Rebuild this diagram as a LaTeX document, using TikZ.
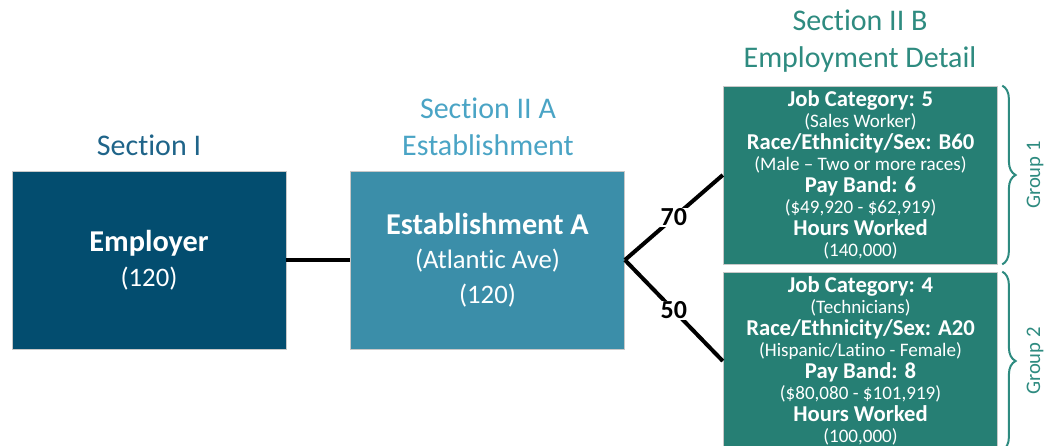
\documentclass[tikz,border=0pt]{standalone}
\usepackage{fontspec}
\setmainfont{Carlito}[Ligatures=NoCommon]
\usetikzlibrary{decorations.pathreplacing}

\definecolor{employerblue}{HTML}{034D6F}
\definecolor{estabblue}{HTML}{3B8EA9}
\definecolor{detailteal}{HTML}{267F74}
\definecolor{secone}{HTML}{1F6489}
\definecolor{sectwoa}{HTML}{4AA4C5}
\definecolor{sectwob}{HTML}{2E8B80}
\definecolor{boxedge}{HTML}{C8C8C8}

\newcommand{\dethead}[1]{{\fontsize{17}{16.1}\selectfont\bfseries #1}}
\newcommand{\detnote}[1]{{\fontsize{14.3}{16.1}\selectfont #1}}
\newcommand{\boxtitle}[1]{{\fontsize{22.7}{26}\selectfont\bfseries #1}}

\tikzset{
  unitbox/.style={rectangle, draw=boxedge, line width=0.6pt, text=white,
    minimum width=205.5pt, minimum height=133.5pt, align=center, inner sep=0pt},
  mainbox/.style={unitbox, font=\fontsize{20}{26}\selectfont},
  detailbox/.style={unitbox, fill=detailteal, minimum width=206pt,
    font=\fontsize{14.3}{16.1}\selectfont},
  seclabel/.style={font=\fontsize{22.5}{28}\selectfont, align=center, inner sep=0pt},
  link/.style={line width=3pt, black},
  countlabel/.style={fill=white, inner sep=0.6pt, font=\fontsize{19.5}{19.5}\selectfont\bfseries},
  groupbrace/.style={decorate, decoration={brace, amplitude=10pt}, draw=sectwob, line width=1.5pt},
  grouplabel/.style={rotate=90, text=sectwob, font=\fontsize{15.5}{16}\selectfont, inner sep=0pt}
}

\begin{document}
\begin{tikzpicture}[x=0.75pt, y=-0.75pt]
  \useasboundingbox (0,0) rectangle (1046,446);

  % section headings
  \node[seclabel, text=secone] (sec1) at (149,145) {Section I};
  \node[seclabel, text=sectwoa] (sec2a) at (488,127) {Section II A\\Establishment};
  \node[seclabel, text=sectwob] (sec2b) at (860,41) {Section II B\\Employment Detail};

  % employer and establishment boxes
  \node[mainbox, fill=employerblue] (employer) at (149,260)
    {\boxtitle{Employer}\\(120)};
  \node[mainbox, fill=estabblue] (estab) at (487.5,260)
    {\boxtitle{Establishment A}\\(Atlantic Ave)\\(120)};

  % employment detail groups
  \node[detailbox] (g1) at (860.5,175)
    {\dethead{Job Category: 5}\\
     \detnote{(Sales Worker)}\\
     \dethead{Race/Ethnicity/Sex: B60}\\
     \detnote{(Male – Two or more races)}\\
     \dethead{Pay Band: 6}\\
     \detnote{(\$49,920 - \$62,919)}\\
     \dethead{Hours Worked}\\
     \detnote{(140,000)}};
  \node[detailbox] (g2) at (860.5,361)
    {\dethead{Job Category: 4}\\
     \detnote{(Technicians)}\\
     \dethead{Race/Ethnicity/Sex: A20}\\
     \detnote{(Hispanic/Latino - Female)}\\
     \dethead{Pay Band: 8}\\
     \detnote{(\$80,080 - \$101,919)}\\
     \dethead{Hours Worked}\\
     \detnote{(100,000)}};

  % connectors
  \draw[link] (employer.east) -- (estab.west);
  \draw[link] (estab.east) -- node[countlabel] (n70) {70} (g1.west);
  \draw[link] (estab.east) -- node[countlabel] (n50) {50} (g2.west);

  % group braces
  \draw[groupbrace] ([xshift=3pt]g1.north east) -- ([xshift=3pt]g1.south east);
  \draw[groupbrace] ([xshift=3pt]g2.north east) -- ([xshift=3pt]g2.south east);
  \node[grouplabel] (grp1) at (1035,175) {Group 1};
  \node[grouplabel] (grp2) at (1035,361) {Group 2};
\end{tikzpicture}
\end{document}
